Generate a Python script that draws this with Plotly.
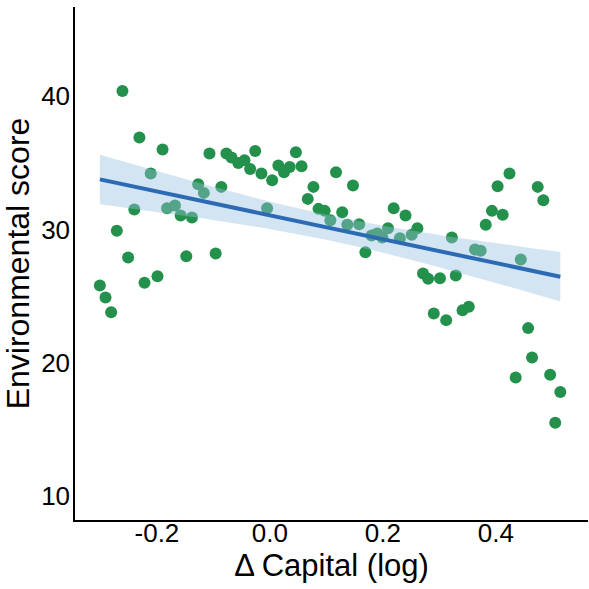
import numpy as np
import plotly.graph_objects as go

# Change in capital (log) and environmental score per observation
capital_change = [
    -0.301, -0.291, -0.281, -0.271, -0.261, -0.251, -0.240, -0.231, -0.222, -0.211,
    -0.199, -0.190, -0.182, -0.168, -0.158, -0.148, -0.138, -0.127, -0.117, -0.107,
    -0.096, -0.086, -0.077, -0.068, -0.056, -0.045, -0.035, -0.026, -0.015, -0.005,
    0.004, 0.015, 0.025, 0.035, 0.046, 0.056, 0.067, 0.077, 0.086, 0.097,
    0.107, 0.117, 0.128, 0.137, 0.147, 0.158, 0.169, 0.180, 0.190, 0.199,
    0.209, 0.219, 0.230, 0.240, 0.251, 0.261, 0.271, 0.280, 0.290, 0.301,
    0.312, 0.322, 0.329, 0.341, 0.352, 0.363, 0.373, 0.382, 0.393, 0.403,
    0.412, 0.424, 0.435, 0.444, 0.457, 0.464, 0.474, 0.484, 0.496, 0.505,
    0.514,
]
env_score = [
    25.8, 24.9, 23.8, 29.9, 40.4, 27.9, 31.5, 36.9, 26.0, 34.2,
    26.5, 36.0, 31.6, 31.8, 31.05, 28.0, 30.9, 33.4, 32.75, 35.7,
    28.2, 33.2, 35.7, 35.4, 35.0, 35.2, 34.55, 35.9, 34.2, 31.6,
    33.7, 34.8, 34.3, 34.7, 35.8, 34.75, 32.3, 33.2, 31.55, 31.4,
    30.7, 34.3, 31.3, 30.35, 33.3, 30.4, 28.3, 29.55, 29.7, 29.4,
    30.1, 31.6, 29.35, 31.05, 29.6, 30.1, 26.7, 26.3, 23.7, 26.35,
    23.2, 29.4, 26.55, 23.95, 24.2, 28.5, 28.4, 30.35, 31.4, 33.25,
    31.1, 34.2, 18.9, 27.75, 22.6, 20.4, 33.2, 32.2, 19.1, 15.5,
    17.8,
]
x_ticks = [-0.2, 0.0, 0.2, 0.4]
x_tick_text = ["-0.2", "0.0", "0.2", "0.4"]
y_ticks = [10, 20, 30, 40]

POINT_COLOR = "#23914b"
LINE_COLOR = "#2c6bb4"
BAND_COLOR = "rgba(150,190,225,0.42)"

# Ordinary least squares fit with a 95% confidence band for the mean
x = np.asarray(capital_change)
y = np.asarray(env_score)
n = len(x)
slope, intercept = np.polyfit(x, y, 1)
resid = y - (intercept + slope * x)
s = np.sqrt(np.sum(resid ** 2) / (n - 2))
sxx = np.sum((x - x.mean()) ** 2)
grid = np.linspace(x.min(), x.max(), 100)
fit = intercept + slope * grid
t_crit = 1.990
half = t_crit * s * np.sqrt(1.0 / n + (grid - x.mean()) ** 2 / sxx)

fig = go.Figure()

fig.add_trace(go.Scatter(
    x=capital_change, y=env_score, mode="markers",
    marker=dict(color=POINT_COLOR, size=12, line=dict(width=0)),
    showlegend=False, hoverinfo="x+y",
))
fig.add_trace(go.Scatter(
    x=grid, y=fit + half, mode="lines", line=dict(width=0),
    showlegend=False, hoverinfo="skip",
))
fig.add_trace(go.Scatter(
    x=grid, y=fit - half, mode="lines", line=dict(width=0),
    fill="tonexty", fillcolor=BAND_COLOR,
    showlegend=False, hoverinfo="skip",
))
fig.add_trace(go.Scatter(
    x=grid, y=fit, mode="lines",
    line=dict(color=LINE_COLOR, width=4),
    showlegend=False,
))

font_family = "Liberation Sans, Arial, sans-serif"

fig.update_layout(
    width=589, height=589,
    margin=dict(l=75, r=1, t=7, b=69),
    paper_bgcolor="white", plot_bgcolor="white",
    font=dict(family=font_family, color="black", size=26),
)
fig.update_xaxes(
    range=[-0.345, 0.563],
    tickvals=x_ticks, ticktext=x_tick_text,
    showgrid=False, zeroline=False,
    showline=True, linecolor="black", linewidth=1.5,
    ticks="", ticklen=0, ticklabelstandoff=-11, tickfont=dict(size=26),
    title=dict(text="Δ Capital (log)", font=dict(size=31), standoff=7),
)
fig.update_yaxes(
    range=[8.2, 46.7],
    tickvals=y_ticks,
    showgrid=False, zeroline=False,
    showline=True, linecolor="black", linewidth=1.5,
    ticks="", ticklen=0, ticklabelstandoff=-2, tickfont=dict(size=26),
    title=dict(text="Environmental score", font=dict(size=32), standoff=2),
)

fig.write_html("out.html")
